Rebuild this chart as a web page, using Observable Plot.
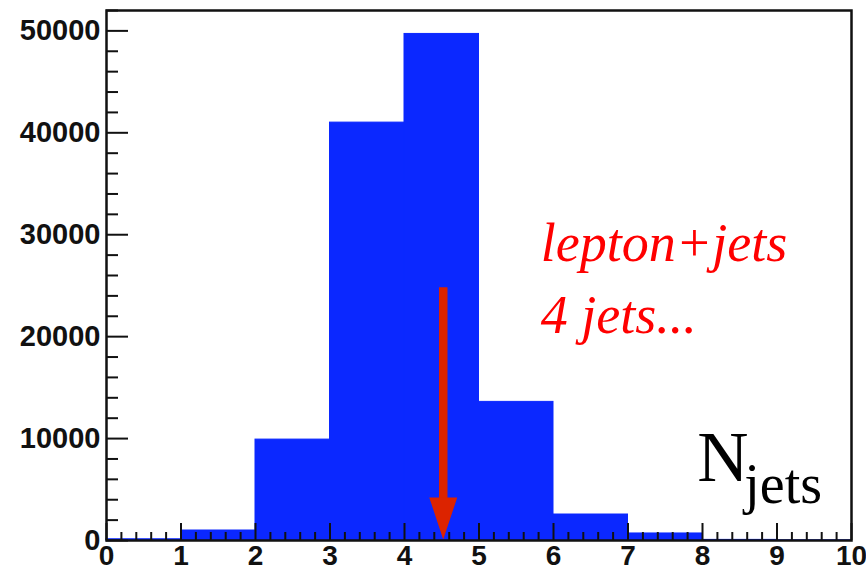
<!DOCTYPE html>
<html><head><meta charset="utf-8">
<script src="https://cdn.jsdelivr.net/npm/d3@7"></script>
<script src="https://cdn.jsdelivr.net/npm/@observablehq/plot@0.6"></script>
<style>body{margin:0;background:#fff;overflow:hidden;}</style>
</head><body><div id="chart"></div>
<script>
// Histogram bins (N jets) and counts
const binLow  = [0, 1, 2, 3, 4, 5, 6, 7, 8, 9];
const binHigh = [1, 2, 3, 4, 5, 6, 7, 8, 9, 10];
const counts  = [120, 980, 9900, 41000, 49700, 13600, 2550, 690, 60, 20];

// Axis ticks
const xMajorTicks = [0, 1, 2, 3, 4, 5, 6, 7, 8, 9, 10];
const xMinorTicks = d3.range(0, 50).map(i => i / 5).filter(v => !Number.isInteger(v));
const yMajorTicks = [0, 10000, 20000, 30000, 40000, 50000];
const yMinorTicks = d3.range(0, 27).map(i => i * 2000).filter(v => v % 10000 !== 0);

// Annotation: arrow (cut position) and labels
const arrowX = [4.52];
const arrowShaftTop = [24800];
const arrowShaftBottom = [4000];
const arrowTip = [100];
const redLabels = ["lepton+jets", "4 jets..."];
const redLabelX = [5.83, 5.83];
const redLabelY = [27450, 20400];
const nLabel = ["N"], nLabelX = [7.93], nLabelY = [5880];
const subLabel = ["jets"], subLabelX = [8.56], subLabelY = [3700];

const bins = binLow.map((lo, i) => ({lo, hi: binHigh[i], n: counts[i]}));
const reds = redLabels.map((t, i) => ({t, x: redLabelX[i], y: redLabelY[i]}));

const headSymbol = {
  draw(ctx) {
    ctx.moveTo(0, 0);
    ctx.lineTo(-14, -42);
    ctx.lineTo(14, -42);
    ctx.closePath();
  }
};

const blue = "#0b28ff";
const arrowRed = "#dc2300";
const tickFont = {fontFamily: "'Liberation Sans', Arial, Helvetica, sans-serif", fontWeight: "bold", fontSize: 29, fill: "#111"};

const chart = Plot.plot({
  width: 866,
  height: 571,
  marginLeft: 106,
  marginRight: 15,
  marginTop: 10,
  marginBottom: 31,
  x: {domain: [0, 10]},
  y: {domain: [0, 52000]},
  style: {background: "white", overflow: "visible"},
  marks: [
    Plot.rectY(bins, {x1: "lo", x2: "hi", y: "n", fill: blue, stroke: blue, strokeWidth: 1}),
    Plot.ruleX(arrowX, {x: d => d, y1: arrowShaftBottom[0], y2: arrowShaftTop[0], stroke: arrowRed, strokeWidth: 8.5}),
    Plot.dot(arrowX, {x: d => d, y: arrowTip[0], symbol: headSymbol, fill: arrowRed, stroke: null}),
    // ticks
    Plot.axisY(yMajorTicks, {anchor: "left", tickSize: -22, tickPadding: 28, strokeWidth: 2, stroke: "#111", ...tickFont, tickFormat: d => String(d)}),
    Plot.axisY(yMinorTicks, {anchor: "left", tickSize: -12, strokeWidth: 2, stroke: "#111", tickFormat: () => ""}),
    Plot.axisX(xMajorTicks, {anchor: "bottom", tickSize: -17, tickPadding: 22, strokeWidth: 2, stroke: "#111", ...tickFont, fontSize: 28, tickFormat: d => String(d)}),
    Plot.axisX(xMinorTicks, {anchor: "bottom", tickSize: -8, strokeWidth: 2, stroke: "#111", tickFormat: () => ""}),
    Plot.frame({stroke: "#111", strokeWidth: 2.5}),
    // labels
    Plot.text(reds, {x: "x", y: "y", text: "t", textAnchor: "start", lineAnchor: "bottom", fill: "#ff0000",
      fontFamily: "'Liberation Serif', 'Times New Roman', serif", fontStyle: "italic", fontSize: 54}),
    Plot.text(nLabel, {x: nLabelX[0], y: nLabelY[0], text: d => d, textAnchor: "start", lineAnchor: "bottom", fill: "black",
      fontFamily: "'Liberation Serif', 'Times New Roman', serif", fontSize: 71}),
    Plot.text(subLabel, {x: subLabelX[0], y: subLabelY[0], text: d => d, textAnchor: "start", lineAnchor: "bottom", fill: "black",
      fontFamily: "'Liberation Serif', 'Times New Roman', serif", fontSize: 56})
  ]
});
document.getElementById("chart").appendChild(chart);
</script>
</body></html>
